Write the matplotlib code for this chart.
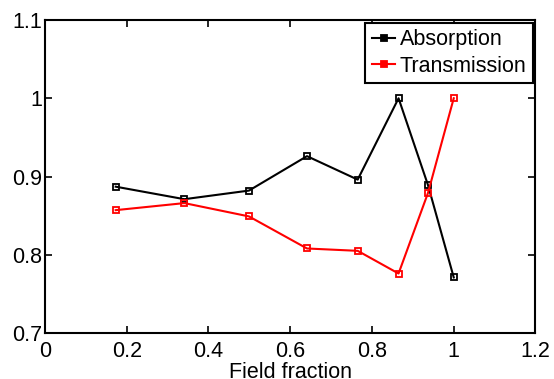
import matplotlib
matplotlib.use("Agg")
import matplotlib.pyplot as plt

# data
field_fraction = [0.173, 0.341, 0.499, 0.641, 0.765, 0.865, 0.937, 1.0]
absorption = [0.887, 0.871, 0.882, 0.926, 0.896, 1.0, 0.889, 0.771]
transmission = [0.857, 0.866, 0.849, 0.808, 0.805, 0.776, 0.879, 1.0]

x_ticks = [0, 0.2, 0.4, 0.6, 0.8, 1.0, 1.2]
x_tick_labels = ["0", "0.2", "0.4", "0.6", "0.8", "1", "1.2"]
y_ticks = [0.7, 0.8, 0.9, 1.0, 1.1]
y_tick_labels = ["0.7", "0.8", "0.9", "1", "1.1"]

plt.rcParams["font.family"] = ["Liberation Sans", "DejaVu Sans"]
fs = 15.5

fig = plt.figure(figsize=(5.54, 3.79), dpi=100)
ax = fig.add_axes([0.0812, 0.1214, 0.9666 - 0.0812, 0.9472 - 0.1214])

line_kw = dict(linewidth=1.5, marker="s", markersize=4.5,
               markerfacecolor="none", markeredgewidth=1.3)
ax.plot(field_fraction, absorption, color="black", label="Absorption", **line_kw)
ax.plot(field_fraction, transmission, color="#ff0000", label="Transmission", **line_kw)

ax.set_xlim(0, 1.2)
ax.set_ylim(0.7, 1.1)
ax.set_xticks(x_ticks)
ax.set_xticklabels(x_tick_labels)
ax.set_yticks(y_ticks)
ax.set_yticklabels(y_tick_labels)

ax.tick_params(axis="both", direction="in", top=True, right=True,
               length=5, width=1.2, labelsize=fs)
ax.tick_params(axis="x", pad=6)
ax.tick_params(axis="y", pad=2)

for spine in ax.spines.values():
    spine.set_linewidth(1.5)

ax.set_xlabel("Field fraction", fontsize=fs, labelpad=0)

leg = ax.legend(loc="upper right", bbox_to_anchor=(533 / 554, 1 - 23 / 379),
                bbox_transform=fig.transFigure, borderaxespad=0,
                fontsize=fs, fancybox=False, edgecolor="black",
                framealpha=1, handlelength=1.1, handletextpad=0.2,
                labelspacing=0.25, borderpad=0.3)
leg.get_frame().set_linewidth(1.5)
for h in leg.get_lines():
    h.set_markerfacecolor(h.get_color())

fig.savefig("out.png", dpi=100)
